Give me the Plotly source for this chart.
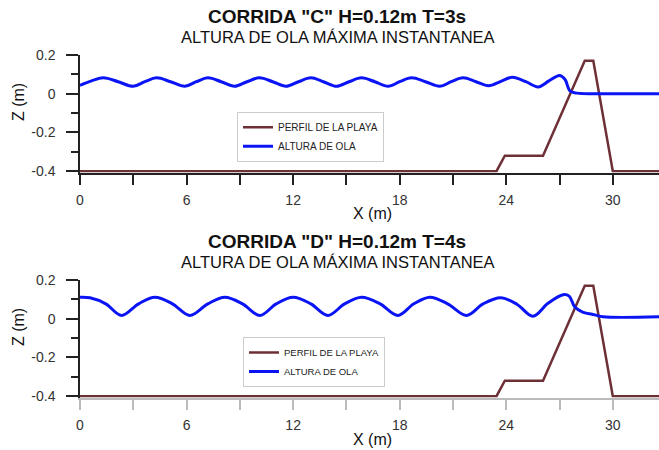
import plotly.graph_objects as go

# ---------------- data ----------------
# Beach profile (same in both runs)
perfil_x = [0, 23.45, 23.92, 26.07, 28.42, 28.9, 30.0, 32.6]
perfil_z = [-0.4, -0.4, -0.32, -0.32, 0.17, 0.17, -0.4, -0.4]

# Run C: H=0.12 m, T=3 s  (max instantaneous wave height)
ola_c_x = [0, 0.65, 1.31, 2.15, 3.0, 3.65, 4.31, 5.1, 5.9, 6.55, 7.2, 7.95, 8.7, 9.4,
           10.1, 10.85, 11.6, 12.3, 13.0, 13.7, 14.45, 15.15, 15.85, 16.6, 17.35, 18.0,
           18.67, 19.45, 20.26, 20.9, 21.57, 22.3, 23.0, 23.7, 24.35, 25.1, 25.8, 26.4,
           27.0, 27.3, 27.6, 28.0, 29.0, 32.6]
ola_c_z = [0.043, 0.066, 0.082, 0.062, 0.038, 0.062, 0.082, 0.062, 0.038, 0.062, 0.082,
           0.062, 0.038, 0.062, 0.082, 0.062, 0.038, 0.062, 0.082, 0.062, 0.038, 0.062,
           0.082, 0.062, 0.038, 0.062, 0.082, 0.062, 0.038, 0.062, 0.082, 0.062, 0.041,
           0.064, 0.085, 0.062, 0.035, 0.066, 0.094, 0.075, 0.013, 0.003, 0.0, 0.0]

# Run D: H=0.12 m, T=4 s
ola_d_x = [0, 0.56, 1.45, 2.34, 3.3, 4.22, 5.2, 6.19, 7.2, 8.16, 9.15, 10.13, 11.05, 12.0,
           13.0, 13.96, 14.9, 15.85, 16.9, 17.9, 18.8, 19.7, 20.7, 21.76, 22.7, 23.7, 24.6,
           25.5, 26.35, 27.2, 27.54, 27.86, 28.3, 28.98, 29.45, 32.6]
ola_d_z = [0.111, 0.108, 0.077, 0.017, 0.077, 0.111, 0.077, 0.017, 0.077, 0.111, 0.077,
           0.017, 0.077, 0.111, 0.077, 0.017, 0.077, 0.111, 0.077, 0.017, 0.077, 0.111,
           0.077, 0.017, 0.077, 0.108, 0.075, 0.013, 0.08, 0.124, 0.117, 0.06, 0.034,
           0.02, 0.01, 0.01]

x_tickvals = [0, 3, 6, 9, 12, 15, 18, 21, 24, 27, 30]
x_ticktext = ["0", "", "6", "", "12", "", "18", "", "24", "", "30"]
y_tickvals = [-0.4, -0.2, 0, 0.2]
y_ticktext = ["-0.4", "-0.2", "0", "0.2"]
y_minor = [-0.3, -0.1, 0.1]

titulos = ['CORRIDA "C" H=0.12m T=3s', 'CORRIDA "D" H=0.12m T=4s']
subtitulo = "ALTURA DE OLA MÁXIMA INSTANTANEA"

# ---------------- style ----------------
FONT = "Arial, 'Liberation Sans', sans-serif"
C_PERFIL = "#6e3037"
C_OLA = "#0a14f5"

fig = go.Figure()

for i, (ox, oz) in enumerate([(ola_c_x, ola_c_z), (ola_d_x, ola_d_z)]):
    xa = "x" if i == 0 else "x2"
    ya = "y" if i == 0 else "y2"
    lg = "legend" if i == 0 else "legend2"
    fig.add_trace(go.Scatter(x=perfil_x, y=perfil_z, mode="lines", name="PERFIL DE LA PLAYA",
                             line=dict(color=C_PERFIL, width=2.5), xaxis=xa, yaxis=ya, legend=lg))
    fig.add_trace(go.Scatter(x=ox, y=oz, mode="lines", name="ALTURA DE OLA",
                             line=dict(color=C_OLA, width=3, shape="spline", smoothing=1.0),
                             xaxis=xa, yaxis=ya, legend=lg))

H = 450.0
def py(pix):
    return 1 - pix / H

xr = [0, 32.6]
yr = [-0.407, 0.2]

def xaxis(anchor, axcol):
    return dict(range=xr, domain=[0, 1], anchor=anchor, tickvals=x_tickvals, ticktext=x_ticktext,
                ticks="outside", ticklen=11, tickwidth=1.5, tickcolor=axcol, showline=True,
                linecolor=axcol, linewidth=1.5, showgrid=False, zeroline=False, automargin=False,
                tickfont=dict(family=FONT, size=14, color="#333"), ticklabelstandoff=3)

def yaxis(anchor, dom):
    return dict(range=yr, domain=dom, anchor=anchor, tickvals=y_tickvals, ticktext=y_ticktext,
                ticks="outside", ticklen=12, tickwidth=1.5, tickcolor="#222", showline=True,
                linecolor="#222", linewidth=1.5, showgrid=False, zeroline=False, automargin=False,
                minor=dict(tickvals=y_minor, ticks="outside", ticklen=7, tickwidth=1.5, tickcolor="#222"),
                tickfont=dict(family=FONT, size=14, color="#333"), ticklabelstandoff=8)

def note(text, xpix, ypix, size, angle=0):
    return dict(text=text, x=(xpix - 80) / 579, y=py(ypix), xref="paper", yref="paper",
                xanchor="center", yanchor="middle", showarrow=False, textangle=angle,
                font=dict(family=FONT, size=size, color="#111"))

ann = []
for i, off in enumerate([0, 225]):
    ann.append(note("<b>" + titulos[i] + "</b>", 337, 16 + off, 19))
    ann.append(note(subtitulo, 338, 37 + off, 16.5))
    ann.append(note("Z (m)", 18, 102 + off, 16, -90))
    ann.append(note("X (m)", 372, 214 + off, 16))

fig.update_layout(
    width=659, height=450,
    margin=dict(l=80, r=0, t=0, b=0, autoexpand=False),
    paper_bgcolor="white", plot_bgcolor="white",
    xaxis=xaxis("y", "#222"),
    yaxis=yaxis("x", [py(172.5), py(55)]),
    xaxis2=xaxis("y2", "#bbb"),
    yaxis2=yaxis("x2", [py(397.5), py(280)]),
    annotations=ann,
    legend=dict(x=(237 - 80) / 579, y=py(111.7), xanchor="left", yanchor="top",
                bgcolor="white", bordercolor="#ccc", borderwidth=1,
                font=dict(family=FONT, size=10, color="#222"), tracegroupgap=0),
    legend2=dict(x=(243 - 80) / 579, y=py(337), xanchor="left", yanchor="top",
                 bgcolor="white", bordercolor="#ccc", borderwidth=1,
                 font=dict(family=FONT, size=9.5, color="#222"), tracegroupgap=0),
    showlegend=True,
)

fig.write_html("out.html", config={"displayModeBar": False},
               post_script="document.body.style.margin='0';document.body.style.overflow='hidden';")
